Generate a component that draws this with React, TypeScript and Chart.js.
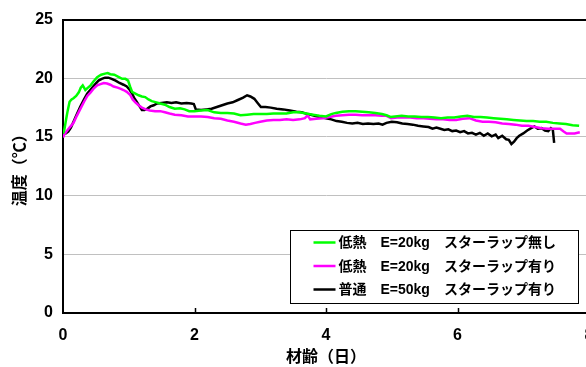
import React, { useEffect, useRef } from 'react';
import { Chart, registerables } from 'chart.js';

Chart.register(...registerables);

const FONT = "'Liberation Sans', 'Noto Sans CJK JP', sans-serif";

const seriesLabels = [
  '低熱　E=20kg　スターラップ無し',
  '低熱　E=20kg　スターラップ有り',
  '普通　E=50kg　スターラップ有り',
];
const seriesColors = ['#00ff00', '#ff00ff', '#000000'];

const xTitle = '材齢（日）';
const yTitle = '温度（℃）';

// 低熱 E=20kg スターラップ無し
const lowBareDays = [
  0.0, 0.02, 0.05, 0.07, 0.1, 0.13, 0.16, 0.2, 0.24, 0.27, 0.3, 0.32, 0.34, 0.38, 0.42, 0.46, 0.52, 0.58, 0.64,
  0.68, 0.72, 0.78, 0.85, 0.9, 0.95, 0.99, 1.02, 1.05, 1.1, 1.15, 1.2, 1.25, 1.3, 1.35, 1.42, 1.48, 1.55, 1.62,
  1.7, 1.78, 1.85, 1.92, 2.0, 2.1, 2.2, 2.3, 2.4, 2.5, 2.6, 2.7, 2.8, 2.9, 3.0, 3.1, 3.2, 3.3, 3.4, 3.5, 3.6,
  3.7, 3.8, 3.9, 4.0, 4.08, 4.15, 4.25, 4.35, 4.45, 4.55, 4.65, 4.75, 4.85, 4.92, 4.98, 5.05, 5.15, 5.25, 5.35,
  5.45, 5.55, 5.65, 5.75, 5.85, 5.95, 6.05, 6.15, 6.25, 6.35, 6.45, 6.55, 6.65, 6.75, 6.85, 6.95, 7.05, 7.15,
  7.25, 7.35, 7.45, 7.55, 7.65, 7.75, 7.85,
];
const lowBareTemps = [
  15.3, 15.6, 16.6, 17.2, 18.0, 18.2, 18.3, 18.5, 18.8, 19.2, 19.4, 19.2, 19.0, 19.2, 19.4, 19.7, 20.1, 20.3, 20.4,
  20.45, 20.35, 20.3, 20.1, 19.95, 19.95, 19.8, 19.3, 18.85, 18.7, 18.55, 18.45, 18.4, 18.2, 18.05, 17.95, 17.85,
  17.75, 17.55, 17.4, 17.45, 17.35, 17.2, 17.2, 17.25, 17.3, 17.1, 17.05, 17.05, 17.0, 16.85, 16.9, 16.95, 16.95,
  16.95, 17.0, 17.0, 17.0, 17.1, 17.1, 17.0, 16.9, 16.8, 16.75, 16.95, 17.05, 17.15, 17.2, 17.2, 17.15, 17.1,
  17.05, 16.95, 16.85, 16.7, 16.75, 16.8, 16.75, 16.75, 16.7, 16.7, 16.65, 16.6, 16.65, 16.65, 16.75, 16.8, 16.7,
  16.7, 16.65, 16.6, 16.55, 16.5, 16.45, 16.4, 16.35, 16.35, 16.3, 16.3, 16.2, 16.15, 16.1, 16.0, 15.95,
];

// 低熱 E=20kg スターラップ有り
const lowWrapDays = [
  0.0, 0.02, 0.05, 0.1, 0.16, 0.21, 0.26, 0.32, 0.37, 0.42, 0.47, 0.52, 0.57, 0.62, 0.67, 0.72, 0.77, 0.83, 0.88,
  0.92, 0.97, 1.02, 1.06, 1.1, 1.15, 1.2, 1.26, 1.32, 1.4, 1.48, 1.55, 1.62, 1.7, 1.8, 1.9, 2.0, 2.1, 2.2, 2.3,
  2.4, 2.5, 2.6, 2.7, 2.78, 2.85, 2.92, 3.0, 3.1, 3.2, 3.3, 3.4, 3.5, 3.6, 3.68, 3.72, 3.76, 3.85, 3.95, 4.05,
  4.15, 4.25, 4.35, 4.45, 4.55, 4.65, 4.75, 4.85, 4.92, 4.99, 5.08, 5.18, 5.28, 5.38, 5.48, 5.58, 5.68, 5.78,
  5.88, 5.98, 6.08, 6.18, 6.28, 6.38, 6.48, 6.58, 6.68, 6.78, 6.88, 6.98, 7.08, 7.18, 7.28, 7.38, 7.48, 7.56,
  7.62, 7.66, 7.72, 7.78, 7.86,
];
const lowWrapTemps = [
  14.95, 15.2, 15.45, 15.8, 16.2, 16.8, 17.35, 18.0, 18.5, 18.8, 19.15, 19.4, 19.5, 19.6, 19.55, 19.45, 19.3,
  19.2, 19.1, 19.0, 18.85, 18.6, 18.2, 17.95, 17.7, 17.5, 17.35, 17.25, 17.2, 17.2, 17.1, 17.0, 16.9, 16.85,
  16.75, 16.75, 16.75, 16.7, 16.6, 16.55, 16.4, 16.3, 16.15, 16.05, 16.1, 16.2, 16.3, 16.4, 16.45, 16.45, 16.5,
  16.45, 16.5, 16.6, 16.85, 16.5, 16.55, 16.6, 16.7, 16.8, 16.85, 16.9, 16.9, 16.85, 16.85, 16.85, 16.8, 16.8,
  16.6, 16.65, 16.65, 16.65, 16.6, 16.6, 16.55, 16.5, 16.5, 16.45, 16.45, 16.55, 16.6, 16.4, 16.3, 16.3, 16.25,
  16.15, 16.1, 16.05, 15.95, 15.95, 15.85, 15.75, 15.7, 15.7, 15.7, 15.45, 15.3, 15.3, 15.3, 15.4,
];

// 普通 E=50kg スターラップ有り
const normalWrapDays = [
  0.0, 0.04, 0.08, 0.12, 0.16, 0.2, 0.26, 0.32, 0.37, 0.43, 0.49, 0.54, 0.59, 0.64, 0.69, 0.74, 0.8, 0.86, 0.92,
  0.97, 1.01, 1.05, 1.08, 1.12, 1.16, 1.2, 1.24, 1.28, 1.33, 1.38, 1.43, 1.5, 1.58, 1.65, 1.72, 1.8, 1.88, 1.95,
  1.99, 2.02, 2.1, 2.18, 2.26, 2.34, 2.42, 2.5, 2.58, 2.66, 2.74, 2.8, 2.85, 2.91, 2.96, 3.01, 3.08, 3.16, 3.25,
  3.35, 3.45, 3.55, 3.63, 3.72, 3.8, 3.9, 4.0, 4.08, 4.16, 4.24, 4.32, 4.4, 4.48, 4.56, 4.64, 4.72, 4.8, 4.86,
  4.92, 5.0, 5.08, 5.16, 5.24, 5.32, 5.4, 5.48, 5.56, 5.62, 5.68, 5.74, 5.8, 5.86, 5.92, 5.98, 6.04, 6.1, 6.16,
  6.22, 6.28, 6.34, 6.4, 6.46, 6.52, 6.58, 6.62, 6.68, 6.74, 6.78, 6.82, 6.86, 6.9, 6.94, 7.0, 7.06, 7.12, 7.17,
  7.22, 7.28, 7.33, 7.38, 7.42, 7.45, 7.47,
];
const normalWrapTemps = [
  15.3, 15.3, 15.45, 15.8, 16.3, 16.8, 17.55, 18.2, 18.7, 19.1, 19.5, 19.8, 19.95, 20.05, 20.05, 19.95, 19.8,
  19.6, 19.45, 19.3, 19.05, 18.7, 18.35, 18.0, 17.65, 17.3, 17.3, 17.4, 17.6, 17.7, 17.85, 17.9, 17.95, 17.9,
  17.95, 17.85, 17.9, 17.85, 17.8, 17.35, 17.3, 17.35, 17.4, 17.55, 17.7, 17.85, 17.95, 18.15, 18.35, 18.55,
  18.45, 18.25, 17.9, 17.55, 17.55, 17.5, 17.4, 17.35, 17.25, 17.15, 17.1, 16.95, 16.85, 16.7, 16.6, 16.5, 16.35,
  16.3, 16.2, 16.15, 16.2, 16.1, 16.15, 16.1, 16.15, 16.05, 16.2, 16.3, 16.25, 16.15, 16.1, 16.05, 15.95, 15.9,
  15.85, 15.7, 15.8, 15.7, 15.6, 15.65, 15.5, 15.55, 15.4, 15.5, 15.3, 15.35, 15.2, 15.35, 15.1, 15.3, 15.05,
  15.2, 14.9, 15.1, 14.8, 14.75, 14.4, 14.6, 14.9, 15.1, 15.3, 15.55, 15.75, 15.9, 15.7, 15.75, 15.55, 15.5,
  15.75, 15.6, 14.5,
];

const xTickMin = 0;
const xTickMax = 8;
const xTickStep = 2;
const yTickMin = 0;
const yTickMax = 25;
const yTickStep = 5;

const pairs = (days: number[], temps: number[]) => days.map((d, i) => ({ x: d, y: temps[i] }));

// Boxed legend in the lower right of the plot, plus inward tick marks on the day axis
const boxedLegend = {
  id: 'boxedLegend',
  afterDatasetsDraw(chart: any) {
    const { ctx, chartArea } = chart;
    const xs = chart.scales.x;
    ctx.save();
    ctx.strokeStyle = '#000';
    ctx.lineWidth = 1.5;
    for (let v = xTickMin + xTickStep; v < xTickMax; v += xTickStep) {
      const px = Math.round(xs.getPixelForValue(v)) + 0.5;
      ctx.beginPath();
      ctx.moveTo(px, chartArea.bottom);
      ctx.lineTo(px, chartArea.bottom - 5);
      ctx.stroke();
    }

    const w = 288;
    const h = 73;
    const left = Math.round(chartArea.right - 11 - w) + 0.5;
    const top = Math.round(chartArea.bottom - 10 - h) + 0.5;
    ctx.fillStyle = '#fff';
    ctx.fillRect(left, top, w, h);
    ctx.lineWidth = 1;
    ctx.strokeStyle = '#000';
    ctx.strokeRect(left, top, w, h);

    ctx.font = `bold 14px ${FONT}`;
    ctx.textBaseline = 'middle';
    ctx.textAlign = 'left';
    chart.data.datasets.forEach((ds: any, i: number) => {
      const y = top + 12 + i * 23.5;
      ctx.strokeStyle = ds.borderColor;
      ctx.lineWidth = 2.5;
      ctx.beginPath();
      ctx.moveTo(left + 23, y);
      ctx.lineTo(left + 45, y);
      ctx.stroke();
      ctx.fillStyle = '#000';
      ctx.fillText(ds.label, left + 48, y + 1);
    });
    ctx.restore();
  },
};

export default function App() {
  const canvasRef = useRef<HTMLCanvasElement | null>(null);

  useEffect(() => {
    const canvas = canvasRef.current;
    if (!canvas) return;
    const series = [
      pairs(lowBareDays, lowBareTemps),
      pairs(lowWrapDays, lowWrapTemps),
      pairs(normalWrapDays, normalWrapTemps),
    ];
    const chart = new Chart(canvas, {
      type: 'line',
      data: {
        datasets: series.map((data, i) => ({
          label: seriesLabels[i],
          data,
          borderColor: seriesColors[i],
          backgroundColor: seriesColors[i],
          borderWidth: 2.5,
          pointRadius: 0,
          tension: 0,
          fill: false,
        })),
      },
      options: {
        responsive: false,
        animation: false,
        devicePixelRatio: 1,
        layout: { padding: { top: 17, right: 20, left: 0, bottom: 0 } },
        plugins: {
          legend: { display: false },
          tooltip: { enabled: false },
        },
        scales: {
          x: {
            type: 'linear',
            min: xTickMin,
            max: xTickMax,
            afterFit: (scale: any) => {
              scale.height = 54;
            },
            ticks: {
              stepSize: xTickStep,
              padding: 13,
              color: '#000',
              maxRotation: 0,
              font: { family: FONT, size: 16, weight: 'bold' },
            },
            grid: { display: false, drawTicks: false },
            border: { display: true, color: '#000', width: 2 },
            title: {
              display: true,
              text: xTitle,
              color: '#000',
              padding: { top: 0, bottom: 0 },
              font: { family: FONT, size: 16, weight: 'bold' },
            },
          },
          y: {
            type: 'linear',
            min: yTickMin,
            max: yTickMax,
            afterFit: (scale: any) => {
              scale.width = 63;
            },
            ticks: {
              stepSize: yTickStep,
              padding: 10,
              color: '#000',
              font: { family: FONT, size: 16, weight: 'bold' },
            },
            grid: {
              drawTicks: false,
              color: (c: any) =>
                c.tick && c.tick.value === yTickMax ? '#000' : c.tick && c.tick.value === yTickMin ? 'rgba(0,0,0,0)' : '#c0c0c0',
              lineWidth: (c: any) => (c.tick && c.tick.value === yTickMax ? 2 : 1),
            },
            border: { display: true, color: '#000', width: 2 },
            title: {
              display: true,
              text: yTitle,
              color: '#000',
              padding: { top: 11, bottom: 0 },
              font: { family: FONT, size: 16, weight: 'bold' },
            },
          },
        },
      },
      plugins: [boxedLegend],
    });
    return () => chart.destroy();
  }, []);

  return (
    <div style={{ position: 'fixed', left: 0, top: 0, width: 586, height: 367, overflow: 'hidden', background: '#fff' }}>
      <canvas ref={canvasRef} width={609} height={367} style={{ display: 'block' }} />
    </div>
  );
}
